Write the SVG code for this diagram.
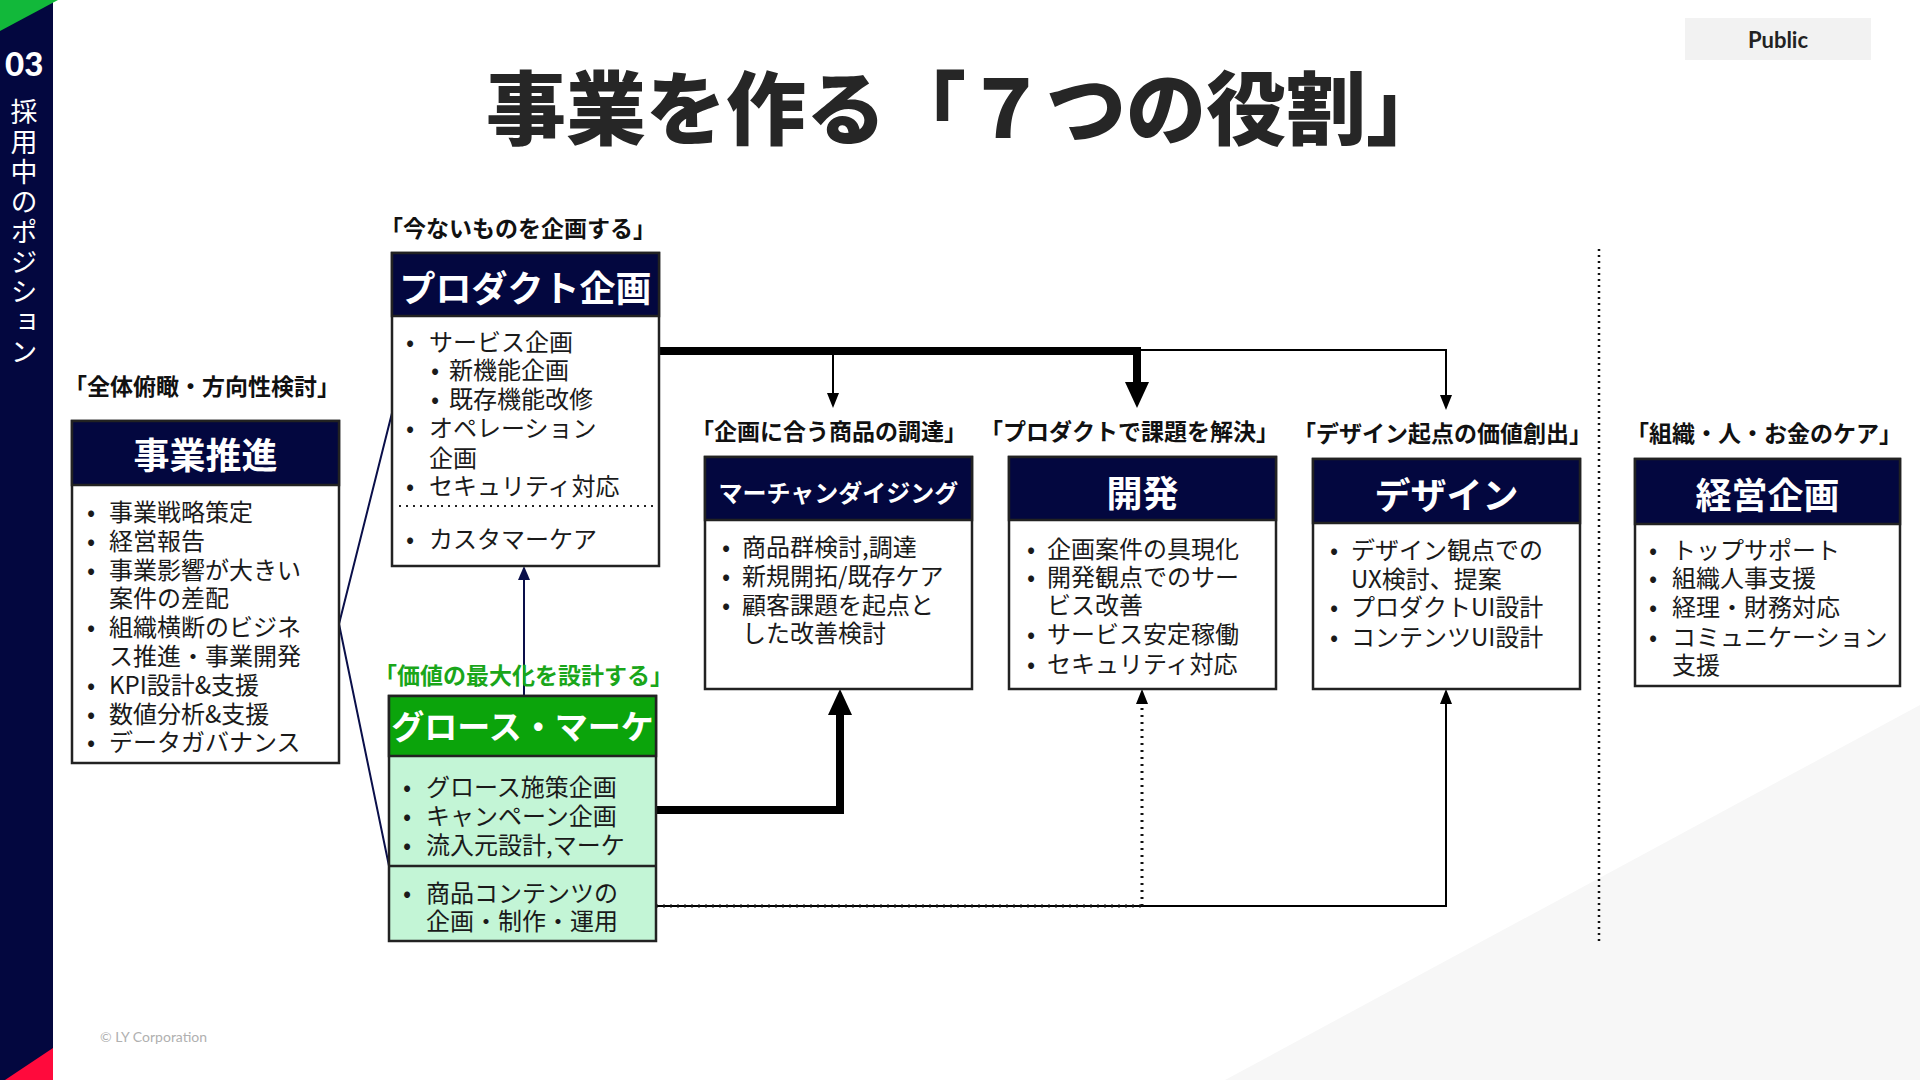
<svg xmlns="http://www.w3.org/2000/svg" width="1920" height="1080" viewBox="0 0 1920 1080">
<style>
text{font-family:"Noto Sans CJK JP","Noto Sans",sans-serif;}
.title{font-size:80px;font-weight:900;fill:#262626;}
.lab{font-size:23px;font-weight:700;fill:#111;}
.labg{font-size:23px;font-weight:700;fill:#1aa61a;}
.hd{font-size:36px;font-weight:700;fill:#fff;}
.bd{font-size:24px;font-weight:400;fill:#1a1a1a;}
.box{fill:#fff;stroke:#222;stroke-width:2.5;}
.boxg{fill:#c3f5d6;stroke:#222;stroke-width:2.5;}
.hdr{fill:#03073f;stroke:#222;stroke-width:2.5;}
.hdrg{fill:#0ba40b;stroke:#222;stroke-width:2.5;}
.thick{fill:none;stroke:#000;stroke-width:8;}
.thin{fill:none;stroke:#000;stroke-width:2;}
.dot{fill:none;stroke:#111;stroke-width:3;stroke-dasharray:2 5;}
.navy{fill:none;stroke:#0a0f4a;stroke-width:2;}
</style>
<defs>
<marker id="aBig" markerUnits="userSpaceOnUse" markerWidth="26" markerHeight="24" refX="0" refY="12" orient="auto"><path d="M0,0 L26,12 L0,24 z" fill="#000"/></marker>
<marker id="aSm" markerUnits="userSpaceOnUse" markerWidth="15" markerHeight="12" refX="0" refY="6" orient="auto"><path d="M0,0 L15,6 L0,12 z" fill="#000"/></marker>
<marker id="aNv" markerUnits="userSpaceOnUse" markerWidth="14" markerHeight="12" refX="0" refY="6" orient="auto"><path d="M0,0 L14,6 L0,12 z" fill="#0a0f4a"/></marker>
</defs>
<rect width="1920" height="1080" fill="#fff"/>
<polygon points="1920,705 1920,1080 1225,1080" fill="#f7f7f7"/>
<g id="sidebar">
<rect x="0" y="0" width="53" height="1080" fill="#03073f"/>
<polygon points="0,0 58,0 0,31" fill="#12b83a"/>
<polygon points="53,1048 53,1080 5,1080" fill="#ff0a3c"/>
<text x="5" y="76" style="font-family:Lato,'Noto Sans',sans-serif;font-size:33px;font-weight:900;fill:#fff;">03</text>
<text x="24" y="98" style="writing-mode:vertical-rl;font-size:27px;letter-spacing:3px;fill:#fff;">採用中のポジション</text>
</g>
<g id="public">
<rect x="1685" y="18" width="186" height="42" fill="#f2f2f2"/>
<text x="1778" y="48" text-anchor="middle" style="font-family:Lato,'Noto Sans',sans-serif;font-size:22px;font-weight:700;fill:#222;">Public</text>
</g>
<text class="title" x="966" y="138" text-anchor="middle">事業を作る「７つの役割」</text>
<text x="100" y="1042" style="font-family:Lato,'Noto Sans',sans-serif;font-size:14px;fill:#b0b0b0;">© LY Corporation</text>

<g id="connectors">
<polyline class="navy" points="392,413 339,624 389,866"/>
<path class="navy" d="M524,696 V580" marker-end="url(#aNv)"/>
<path class="thin" d="M1137,350 H1446 V395" marker-end="url(#aSm)"/>
<path class="thin" d="M833,351 V393" marker-end="url(#aSm)"/>
<path class="thick" d="M659,351 H1137 V382" marker-end="url(#aBig)"/>
<path class="thick" d="M656,810 H840 V715" marker-end="url(#aBig)"/>
<path class="thin" d="M656,906 H1446 V704" marker-end="url(#aSm)"/>
<path class="dot" d="M656,906 H1142"/>
<path class="dot" d="M1142,906 V704"/>
<polygon points="1136,704 1148,704 1142,689" fill="#000"/>
<line x1="1599" y1="249" x2="1599" y2="941" style="stroke:#111;stroke-width:2.5;stroke-dasharray:2 4;"/>
</g>

<g id="node-jigyosuishin">
<text class="lab" x="64" y="395">「全体俯瞰・方向性検討」</text>
<rect class="box" x="72" y="421" width="267" height="342"/>
<rect class="hdr" x="72" y="421" width="267" height="64"/>
<text class="hd" x="205.5" y="469" text-anchor="middle">事業推進</text>
<text class="bd"><tspan x="87" y="521">•</tspan><tspan x="109">事業戦略策定</tspan></text>
<text class="bd"><tspan x="87" y="550">•</tspan><tspan x="109">経営報告</tspan></text>
<text class="bd"><tspan x="87" y="579">•</tspan><tspan x="109">事業影響が大きい</tspan></text>
<text class="bd"><tspan x="109" y="607">案件の差配</tspan></text>
<text class="bd"><tspan x="87" y="636">•</tspan><tspan x="109">組織横断のビジネ</tspan></text>
<text class="bd"><tspan x="109" y="665">ス推進・事業開発</tspan></text>
<text class="bd"><tspan x="87" y="694">•</tspan><tspan x="109">KPI設計&amp;支援</tspan></text>
<text class="bd"><tspan x="87" y="723">•</tspan><tspan x="109">数値分析&amp;支援</tspan></text>
<text class="bd"><tspan x="87" y="751">•</tspan><tspan x="109">データガバナンス</tspan></text>
</g>

<g id="node-product">
<text class="lab" x="380" y="237">「今ないものを企画する」</text>
<rect class="box" x="392" y="253" width="267" height="313"/>
<rect class="hdr" x="392" y="253" width="267" height="63"/>
<text class="hd" x="525.5" y="302" text-anchor="middle">プロダクト企画</text>
<text class="bd"><tspan x="406" y="351">•</tspan><tspan x="429">サービス企画</tspan></text>
<text class="bd"><tspan x="431" y="379">•</tspan><tspan x="449">新機能企画</tspan></text>
<text class="bd"><tspan x="431" y="408">•</tspan><tspan x="449">既存機能改修</tspan></text>
<text class="bd"><tspan x="406" y="437">•</tspan><tspan x="429">オペレーション</tspan></text>
<text class="bd"><tspan x="429" y="467">企画</tspan></text>
<text class="bd"><tspan x="406" y="495">•</tspan><tspan x="429">セキュリティ対応</tspan></text>
<line x1="399" y1="506" x2="657" y2="506" style="stroke:#222;stroke-width:2;stroke-dasharray:2 5;"/>
<text class="bd"><tspan x="406" y="548">•</tspan><tspan x="429">カスタマーケア</tspan></text>
</g>

<g id="node-growth">
<rect class="boxg" x="389" y="696" width="267" height="245"/>
<rect class="hdrg" x="389" y="696" width="267" height="60"/>
<line x1="389" y1="866" x2="656" y2="866" style="stroke:#222;stroke-width:2.5;"/>
<text class="hd" x="522.5" y="739" text-anchor="middle" style="font-size:33px;">グロース・マーケ</text>
<text class="bd"><tspan x="403" y="796">•</tspan><tspan x="426">グロース施策企画</tspan></text>
<text class="bd"><tspan x="403" y="825">•</tspan><tspan x="426">キャンペーン企画</tspan></text>
<text class="bd"><tspan x="403" y="854">•</tspan><tspan x="426">流入元設計,マーケ</tspan></text>
<text class="bd"><tspan x="403" y="902">•</tspan><tspan x="426">商品コンテンツの</tspan></text>
<text class="bd"><tspan x="426" y="930">企画・制作・運用</tspan></text>
</g>
<text class="labg" x="374" y="684">「価値の最大化を設計する」</text>

<g id="node-md">
<text class="lab" x="691" y="440">「企画に合う商品の調達」</text>
<rect class="box" x="705" y="457" width="267" height="232"/>
<rect class="hdr" x="705" y="457" width="267" height="63"/>
<text class="hd" x="838.5" y="502" text-anchor="middle" style="font-size:24px;">マーチャンダイジング</text>
<text class="bd"><tspan x="722" y="556">•</tspan><tspan x="742">商品群検討,調達</tspan></text>
<text class="bd"><tspan x="722" y="585">•</tspan><tspan x="742">新規開拓/既存ケア</tspan></text>
<text class="bd"><tspan x="722" y="614">•</tspan><tspan x="742">顧客課題を起点と</tspan></text>
<text class="bd"><tspan x="742" y="642">した改善検討</tspan></text>
</g>

<g id="node-dev">
<text class="lab" x="980" y="440">「プロダクトで課題を解決」</text>
<rect class="box" x="1009" y="457" width="267" height="232"/>
<rect class="hdr" x="1009" y="457" width="267" height="63"/>
<text class="hd" x="1142.5" y="507" text-anchor="middle">開発</text>
<text class="bd"><tspan x="1027" y="558">•</tspan><tspan x="1047">企画案件の具現化</tspan></text>
<text class="bd"><tspan x="1027" y="586">•</tspan><tspan x="1047">開発観点でのサー</tspan></text>
<text class="bd"><tspan x="1047" y="614">ビス改善</tspan></text>
<text class="bd"><tspan x="1027" y="643">•</tspan><tspan x="1047">サービス安定稼働</tspan></text>
<text class="bd"><tspan x="1027" y="673">•</tspan><tspan x="1047">セキュリティ対応</tspan></text>
</g>

<g id="node-design">
<text class="lab" x="1293" y="442">「デザイン起点の価値創出」</text>
<rect class="box" x="1313" y="459" width="267" height="230"/>
<rect class="hdr" x="1313" y="459" width="267" height="64"/>
<text class="hd" x="1446.5" y="509" text-anchor="middle">デザイン</text>
<text class="bd"><tspan x="1330" y="559">•</tspan><tspan x="1351">デザイン観点での</tspan></text>
<text class="bd"><tspan x="1351" y="588">UX検討、提案</tspan></text>
<text class="bd"><tspan x="1330" y="616">•</tspan><tspan x="1351">プロダクトUI設計</tspan></text>
<text class="bd"><tspan x="1330" y="646">•</tspan><tspan x="1351">コンテンツUI設計</tspan></text>
</g>

<g id="node-keiei">
<text class="lab" x="1626" y="442">「組織・人・お金のケア」</text>
<rect class="box" x="1635" y="459" width="265" height="227"/>
<rect class="hdr" x="1635" y="459" width="265" height="65"/>
<text class="hd" x="1767.5" y="509" text-anchor="middle">経営企画</text>
<text class="bd"><tspan x="1649" y="559">•</tspan><tspan x="1672">トップサポート</tspan></text>
<text class="bd"><tspan x="1649" y="587">•</tspan><tspan x="1672">組織人事支援</tspan></text>
<text class="bd"><tspan x="1649" y="616">•</tspan><tspan x="1672">経理・財務対応</tspan></text>
<text class="bd"><tspan x="1649" y="646">•</tspan><tspan x="1672">コミュニケーション</tspan></text>
<text class="bd"><tspan x="1672" y="674">支援</tspan></text>
</g>
</svg>
